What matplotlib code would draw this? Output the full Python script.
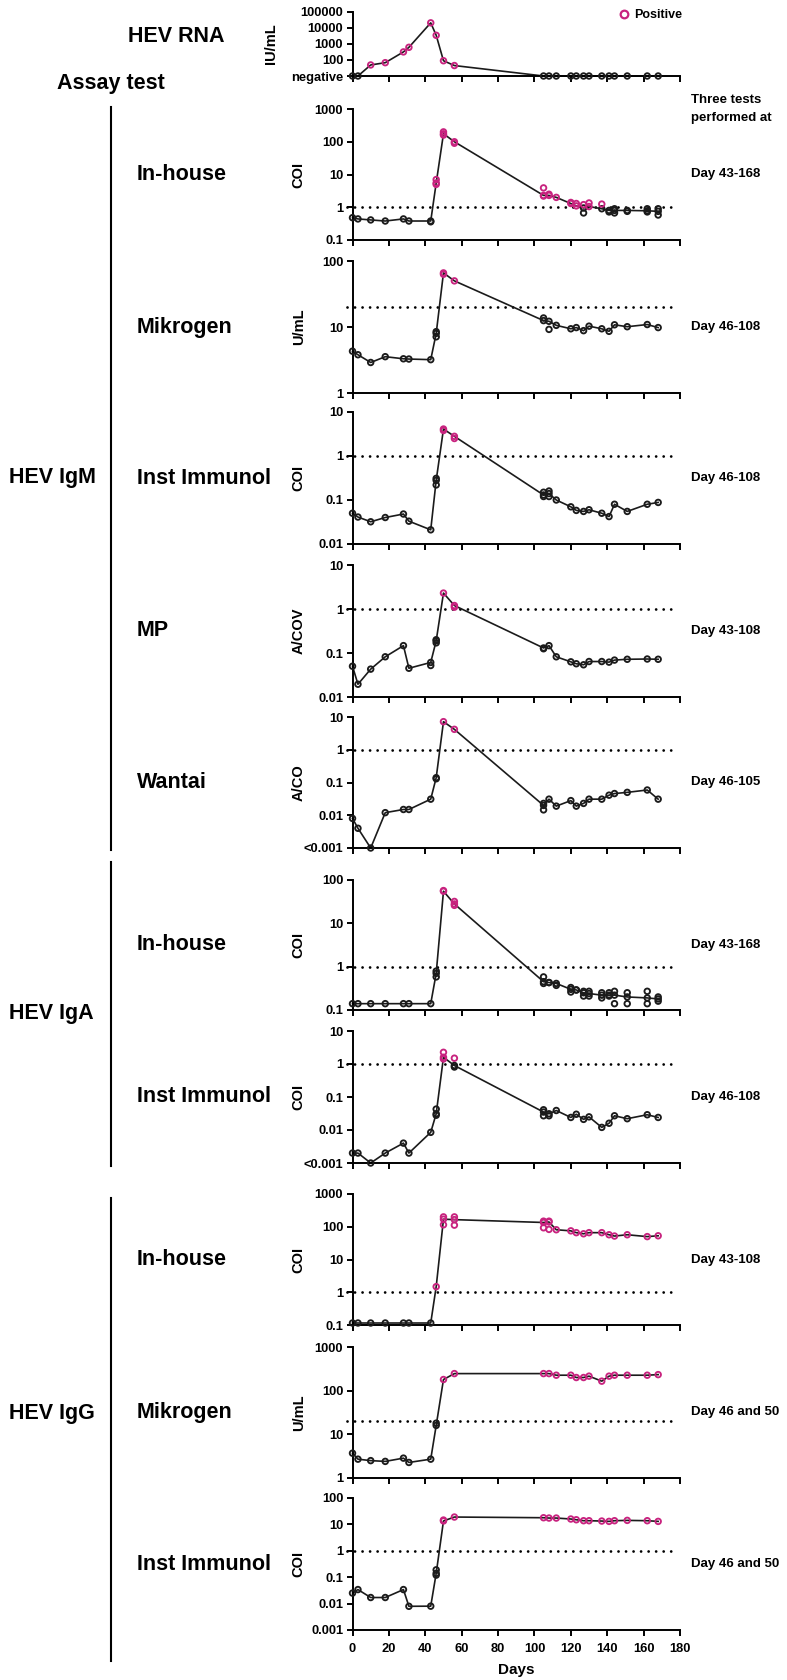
import matplotlib.pyplot as plt
from matplotlib.lines import Line2D

plt.rcParams['font.family'] = ['Liberation Sans', 'DejaVu Sans']
plt.rcParams['font.weight'] = 'bold'
plt.rcParams['axes.labelweight'] = 'bold'

MAG = '#c8237f'
BLK = '#1b1b1b'

# sampling days
days = [0, 3, 10, 18, 28, 31, 43, 46, 50, 56, 105, 108, 112, 120, 123, 127, 130, 137, 141, 144, 151, 162, 168]

# HEV RNA (IU/mL), 10 = negative
rna = [10, 10, 49, 68, 320, 620, 21000, 3500, 90, 45] + [10] * 13

# IgM
igm_inhouse = [0.48, 0.44, 0.41, 0.38, 0.44, 0.38, 0.38, 5.5, 175, 100, 2.3, 2.3, 2.0, 1.3, 1.1, 0.95, 1.05, 0.9, 0.8, 0.8, 0.8, 0.78, 0.75]
igm_inhouse_rep = [(43, 0.36), (46, 7.0), (46, 5.0), (50, 200), (50, 160), (56, 90), (105, 3.9), (105, 2.2),
                   (108, 2.5), (120, 1.4), (123, 1.3), (127, 1.2), (127, 0.67), (130, 1.35), (137, 1.25),
                   (141, 0.72), (144, 0.67), (144, 0.9), (151, 0.75), (162, 0.72), (162, 0.9), (168, 0.58), (168, 0.9)]
igm_mikrogen = [4.3, 3.8, 2.9, 3.55, 3.3, 3.27, 3.2, 8.0, 66, 50, 12.5, 12.2, 10.6, 9.4, 9.8, 8.8, 10.3, 9.4, 8.6, 10.8, 10.1, 10.9, 9.8]
igm_mikrogen_rep = [(46, 8.5), (46, 7.1), (50, 63), (105, 13.7), (108, 9.2)]
igm_instimm = [0.05, 0.041, 0.032, 0.04, 0.048, 0.033, 0.021, 0.28, 4.1, 2.8, 0.13, 0.14, 0.10, 0.07, 0.058, 0.055, 0.06, 0.05, 0.042, 0.08, 0.055, 0.08, 0.088]
igm_instimm_rep = [(46, 0.31), (46, 0.22), (50, 3.8), (56, 2.5), (105, 0.15), (105, 0.12), (108, 0.16), (108, 0.12)]
igm_mp = [0.05, 0.0195, 0.043, 0.082, 0.147, 0.045, 0.061, 0.19, 2.3, 1.2, 0.13, 0.147, 0.082, 0.063, 0.057, 0.054, 0.064, 0.064, 0.062, 0.069, 0.072, 0.073, 0.072]
igm_mp_rep = [(43, 0.052), (46, 0.17), (46, 0.2), (56, 1.1), (105, 0.125)]
igm_wantai = [0.008, 0.004, 0.001, 0.012, 0.015, 0.015, 0.031, 0.14, 7.2, 4.2, 0.02, 0.031, 0.019, 0.028, 0.019, 0.023, 0.031, 0.031, 0.041, 0.046, 0.05, 0.059, 0.031]
igm_wantai_rep = [(46, 0.13), (105, 0.0146), (105, 0.023)]

# IgA
iga_inhouse = [0.14] * 7 + [0.7, 55, 28, 0.45, 0.43, 0.41, 0.3, 0.29, 0.25, 0.24, 0.22, 0.22, 0.22, 0.2, 0.19, 0.18]
iga_inhouse_rep = [(46, 0.79), (46, 0.58), (50, 57), (56, 32), (56, 26), (105, 0.58), (105, 0.41), (108, 0.43),
                   (112, 0.37), (120, 0.33), (120, 0.26), (123, 0.29), (127, 0.27), (127, 0.21), (130, 0.27),
                   (130, 0.21), (137, 0.25), (137, 0.19), (141, 0.25), (141, 0.21), (144, 0.27), (144, 0.14),
                   (151, 0.25), (151, 0.14), (162, 0.27), (162, 0.14), (168, 0.2), (168, 0.16)]
iga_instimm = [0.002, 0.002, 0.001, 0.002, 0.004, 0.002, 0.0085, 0.031, 1.6, 0.9, 0.035, 0.031, 0.039, 0.024, 0.03, 0.021, 0.025, 0.012, 0.016, 0.027, 0.022, 0.029, 0.024]
iga_instimm_rep = [(46, 0.043), (46, 0.028), (50, 2.26), (50, 1.42), (56, 0.81), (56, 1.5), (105, 0.041), (105, 0.027), (108, 0.027)]

# IgG
igg_inhouse = [0.115] * 7 + [1.48, 170, 165, 135, 140, 81, 75, 66, 61, 66, 66, 57, 52, 57, 50, 53]
igg_inhouse_rep = [(50, 200), (50, 115), (56, 200), (56, 112), (105, 148), (105, 93), (108, 148), (108, 83)]
igg_mikrogen = [3.7, 2.7, 2.5, 2.4, 2.85, 2.27, 2.7, 16, 180, 246, 246, 246, 226, 226, 200, 200, 215, 165, 215, 226, 226, 226, 233]
igg_mikrogen_rep = [(46, 18)]
igg_instimm = [0.025, 0.034, 0.017, 0.017, 0.034, 0.0079, 0.008, 0.14, 13.5, 19, 17.9, 17.4, 17.4, 16, 15, 13.8, 13.8, 13.4, 13, 13.8, 14.2, 13.8, 13]
igg_instimm_rep = [(46, 0.19), (46, 0.12), (50, 14.6)]

W, H = 787, 1680
fig = plt.figure(figsize=(W / 100, H / 100), dpi=100)

panels = [
    # data, reps, cutoff, ylim, ticks, ticklabels, ylabel, top px, bottom px, right note
    (rna, [], 10, (10, 1e5), [10, 100, 1000, 1e4, 1e5], ['negative', '100', '1000', '10000', '100000'], 'IU/mL', 12, 76, None),
    (igm_inhouse, igm_inhouse_rep, 1, (0.1, 1000), [0.1, 1, 10, 100, 1000], ['0.1', '1', '10', '100', '1000'], 'COI', 109, 240, 'Day 43-168'),
    (igm_mikrogen, igm_mikrogen_rep, 20, (1, 100), [1, 10, 100], ['1', '10', '100'], 'U/mL', 261, 393, 'Day 46-108'),
    (igm_instimm, igm_instimm_rep, 1, (0.01, 10), [0.01, 0.1, 1, 10], ['0.01', '0.1', '1', '10'], 'COI', 412, 544, 'Day 46-108'),
    (igm_mp, igm_mp_rep, 1, (0.01, 10), [0.01, 0.1, 1, 10], ['0.01', '0.1', '1', '10'], 'A/COV', 565, 697, 'Day 43-108'),
    (igm_wantai, igm_wantai_rep, 1, (0.001, 10), [0.001, 0.01, 0.1, 1, 10], ['<0.001', '0.01', '0.1', '1', '10'], 'A/CO', 717, 848, 'Day 46-105'),
    (iga_inhouse, iga_inhouse_rep, 1, (0.1, 100), [0.1, 1, 10, 100], ['0.1', '1', '10', '100'], 'COI', 880, 1010, 'Day 43-168'),
    (iga_instimm, iga_instimm_rep, 1, (0.001, 10), [0.001, 0.01, 0.1, 1, 10], ['<0.001', '0.01', '0.1', '1', '10'], 'COI', 1031, 1163, 'Day 46-108'),
    (igg_inhouse, igg_inhouse_rep, 1, (0.1, 1000), [0.1, 1, 10, 100, 1000], ['0.1', '1', '10', '100', '1000'], 'COI', 1194, 1325, 'Day 43-108'),
    (igg_mikrogen, igg_mikrogen_rep, 20, (1, 1000), [1, 10, 100, 1000], ['1', '10', '100', '1000'], 'U/mL', 1347, 1478, 'Day 46 and 50'),
    (igg_instimm, igg_instimm_rep, 1, (0.001, 100), [0.001, 0.01, 0.1, 1, 10, 100], ['0.001', '0.01', '0.1', '1', '10', '100'], 'COI', 1498, 1630, 'Day 46 and 50'),
]
row_labels = ['HEV RNA', 'In-house', 'Mikrogen', 'Inst Immunol', 'MP', 'Wantai', 'In-house', 'Inst Immunol',
              'In-house', 'Mikrogen', 'Inst Immunol']

x0, x1 = 352.5, 680
axes = []
for i, (line, reps, cut, ylim, ticks, tlabels, ylab, top, bot, note) in enumerate(panels):
    ax = fig.add_axes([x0 / W, 1 - bot / H, (x1 - x0) / W, (bot - top) / H])
    axes.append(ax)
    ax.set_yscale('log')
    ax.set_xlim(0, 180)
    ax.set_ylim(*ylim)
    ax.plot(days, line, color=BLK, lw=1.2, zorder=2, clip_on=False)
    xs = days + [d for d, _ in reps]
    vals = list(line) + [v for _, v in reps]
    cols = [MAG if v > cut else BLK for v in vals]
    ax.scatter(xs, vals, s=16, facecolors='none', edgecolors=cols, linewidths=1.35, zorder=3, clip_on=False)
    if i > 0:
        ax.plot([-3, 178], [cut, cut], color='black', lw=2.0, ls=(0, (0.01, 2.7)),
                dash_capstyle='round', clip_on=False, zorder=1)
    for s in ['top', 'right']:
        ax.spines[s].set_visible(False)
    for s in ['left', 'bottom']:
        ax.spines[s].set_linewidth(1.4)
    ax.set_yticks(ticks)
    ax.set_yticklabels(tlabels)
    ax.yaxis.set_minor_locator(plt.NullLocator())
    ax.set_xticks(range(0, 181, 20))
    ax.tick_params(width=1.4, length=4.2, labelsize=9.3)
    ax.tick_params(axis='y', pad=2.5)
    ax.tick_params(axis='x', pad=5)
    if i < len(panels) - 1:
        ax.set_xticklabels([])
    ax.set_ylabel(ylab, fontsize=10.5)
    ax.yaxis.set_label_coords(-0.229 if i == 0 else -0.143, 0.5)
    yc = 1 - (top + bot) / 2 / H
    if i == 0:
        fig.text(176 / W, 1 - 36 / H, row_labels[i], fontsize=15.5, ha='center', va='center')
    else:
        fig.text(137 / W, yc, row_labels[i], fontsize=15.5, ha='left', va='center')
    if note:
        fig.text(691 / W, yc, note, fontsize=9.5, ha='left', va='center')

axes[-1].set_xlabel('Days', fontsize=11, labelpad=6)

fig.text(691 / W, 1 - 109 / H, 'Three tests\nperformed at', fontsize=9.5, ha='left', va='center', linespacing=1.75)
fig.text(111 / W, 1 - 83 / H, 'Assay test', fontsize=15.5, ha='center', va='center')

# group brackets
for name, ytop, ybot, ylab in [('HEV IgM', 107, 850, 478), ('HEV IgA', 862, 1166, 1014), ('HEV IgG', 1198, 1661, 1413)]:
    fig.add_artist(Line2D([110.7 / W, 110.7 / W], [1 - ytop / H, 1 - ybot / H], transform=fig.transFigure,
                          color='black', lw=1.5))
    fig.text(9 / W, 1 - ylab / H, name, fontsize=15.5, ha='left', va='center')

# legend
handle = Line2D([], [], marker='o', ls='', mfc='none', mec=MAG, ms=5.5, mew=1.6)
fig.legend([handle], ['Positive'], loc='upper right', bbox_to_anchor=(682 / W, 1 - 9 / H), frameon=False,
           fontsize=9, handlelength=1.0, handletextpad=0.3, borderpad=0, borderaxespad=0)

fig.savefig('out.png', dpi=100)
